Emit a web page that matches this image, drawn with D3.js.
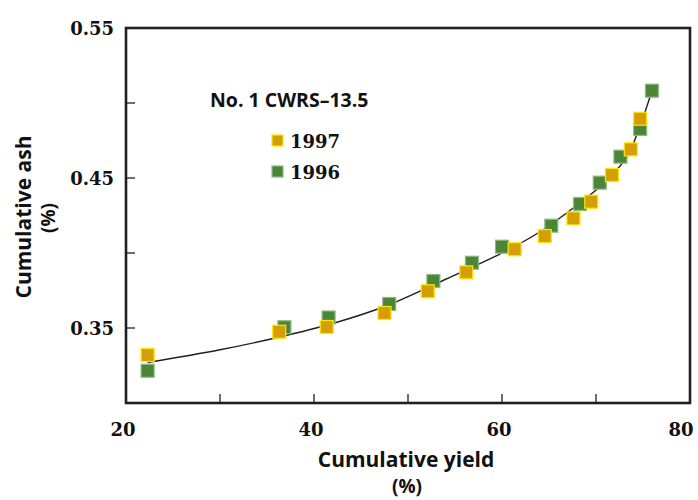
<!DOCTYPE html>
<html>
<head>
<meta charset="utf-8">
<script src="https://cdn.jsdelivr.net/npm/d3@7"></script>
<style>
    body { margin: 0; background: #fff; }
    .tick-label { font-family: "DejaVu Serif", serif; font-weight: bold; font-size: 18px; fill: #111; }
    .title { font-family: "Open Sans", sans-serif; font-weight: bold; font-size: 21px; fill: #111; }
</style>
</head>
<body>
<div id="chart"></div>
<script>
(function () {

    "use strict";

    // Cumulative yield (%) and cumulative ash (%)
    var yield1997 = [22.3, 36.3, 41.35, 47.5, 52.1, 56.2, 61.35, 64.55, 67.6, 69.5, 71.7, 73.7, 74.7],
        ash1997 = [0.332, 0.3475, 0.3507, 0.360, 0.3745, 0.3871, 0.4025, 0.4113, 0.4231, 0.4342, 0.452, 0.4691, 0.4895],
        yield1996 = [22.3, 36.85, 41.55, 48.0, 52.7, 56.8, 60.0, 65.25, 68.3, 70.4, 72.6, 74.7, 75.95],
        ash1996 = [0.3215, 0.3505, 0.357, 0.366, 0.3813, 0.3935, 0.4042, 0.4182, 0.4327, 0.4469, 0.4642, 0.4827, 0.5082],
        // fitted line, points
        fitYield = [22.3, 30, 36, 42, 48, 54, 60, 64, 68, 71, 73.3, 74.7, 75.95],
        fitAsh = [0.327, 0.3355, 0.3435, 0.3530, 0.3655, 0.3825, 0.4, 0.414, 0.432, 0.4475, 0.4642, 0.485, 0.508],
        xTickLabels = [20, 40, 60, 80],
        yTickLabels = [0.35, 0.45, 0.55],
        legendTitle = "No. 1 CWRS\u201313.5",
        seriesNames = ["1997", "1996"];

    var width = 698,
        height = 500,
        left = 126,
        right = 690,
        top = 28,
        bottom = 403,
        tickLen = 9,
        markerSize = 13;

    var colours = {
        "1997": {fill: "#d49e06", stroke: "#ffe600"},
        "1996": {fill: "#4b8636", stroke: "#8dba85"}
    };

    var svg = d3.select("#chart").append("svg")
        .attr("width", width)
        .attr("height", height);

    var x = d3.scaleLinear().domain([20, 80]).range([left, right]),
        y = d3.scaleLinear().domain([0.30, 0.55]).range([bottom, top]);

    /* Frame and inward ticks */

    svg.append("rect")
        .attr("x", left)
        .attr("y", top)
        .attr("width", right - left)
        .attr("height", bottom - top)
        .attr("fill", "none")
        .attr("stroke", "#231f20")
        .attr("stroke-width", 2.6);

    svg.selectAll(".xtick")
        .data([30, 40, 50, 60, 70])
        .enter()
        .append("line")
        .attr("x1", function (d) { return x(d); })
        .attr("x2", function (d) { return x(d); })
        .attr("y1", bottom)
        .attr("y2", bottom - tickLen)
        .attr("stroke", "#231f20")
        .attr("stroke-width", 1.3);

    svg.selectAll(".ytick")
        .data([0.35, 0.40, 0.45, 0.50])
        .enter()
        .append("line")
        .attr("x1", left)
        .attr("x2", left + tickLen)
        .attr("y1", function (d) { return y(d); })
        .attr("y2", function (d) { return y(d); })
        .attr("stroke", "#231f20")
        .attr("stroke-width", 1.3);

    svg.selectAll(".xlabel")
        .data(xTickLabels)
        .enter()
        .append("text")
        .attr("class", "tick-label")
        .attr("x", function (d) { return x(d) - (d === 80 ? 9 : 3); })
        .attr("y", bottom + 33)
        .attr("text-anchor", "middle")
        .text(function (d) { return d; });

    svg.selectAll(".ylabel")
        .data(yTickLabels)
        .enter()
        .append("text")
        .attr("class", "tick-label")
        .attr("x", left - 12)
        .attr("y", function (d) { return y(d) + 7; })
        .attr("text-anchor", "end")
        .text(function (d) { return d.toFixed(2); });

    /* Axis titles */

    svg.append("text")
        .attr("class", "title")
        .attr("x", 406)
        .attr("y", 467)
        .attr("text-anchor", "middle")
        .text("Cumulative yield");

    svg.append("text")
        .attr("class", "title")
        .attr("x", 407)
        .attr("y", 493)
        .attr("text-anchor", "middle")
        .style("font-size", "19px")
        .text("(%)");

    svg.append("text")
        .attr("class", "title")
        .attr("transform", "translate(31,217) rotate(-90)")
        .attr("text-anchor", "middle")
        .text("Cumulative ash");

    svg.append("text")
        .attr("class", "title")
        .attr("transform", "translate(55,218) rotate(-90)")
        .attr("text-anchor", "middle")
        .style("font-size", "19px")
        .text("(%)");

    /* Fitted curve */

    var line = d3.line()
        .x(function (d) { return x(d[0]); })
        .y(function (d) { return y(d[1]); })
        .curve(d3.curveCatmullRom.alpha(0.5));

    svg.append("path")
        .datum(d3.zip(fitYield, fitAsh))
        .attr("d", line)
        .attr("fill", "none")
        .attr("stroke", "#231f20")
        .attr("stroke-width", 1.4);

    /* Markers, 1996 under 1997 */

    function drawSeries(xs, ys, name) {
        svg.append("g")
            .selectAll("rect")
            .data(d3.zip(xs, ys))
            .enter()
            .append("rect")
            .attr("x", function (d) { return x(d[0]) - markerSize / 2; })
            .attr("y", function (d) { return y(d[1]) - markerSize / 2; })
            .attr("width", markerSize)
            .attr("height", markerSize)
            .attr("fill", colours[name].fill)
            .attr("stroke", colours[name].stroke)
            .attr("stroke-width", 1.2);
    }

    drawSeries(yield1996, ash1996, "1996");
    drawSeries(yield1997, ash1997, "1997");

    /* Legend */

    svg.append("text")
        .attr("class", "title")
        .attr("x", 210)
        .attr("y", 107)
        .style("font-size", "19.5px")
        .text(legendTitle);

    var legend = svg.selectAll(".legend")
        .data(seriesNames)
        .enter()
        .append("g")
        .attr("transform", function (d, i) {
            return "translate(272," + (135 + i * 31) + ")";
        });

    legend.append("rect")
        .attr("width", 11)
        .attr("height", 11)
        .attr("fill", function (d) { return colours[d].fill; })
        .attr("stroke", function (d) { return colours[d].stroke; })
        .attr("stroke-width", 1.2);

    legend.append("text")
        .attr("class", "tick-label")
        .attr("x", 18)
        .attr("y", 13)
        .text(function (d) { return d; });

}());
</script>
</body>
</html>
